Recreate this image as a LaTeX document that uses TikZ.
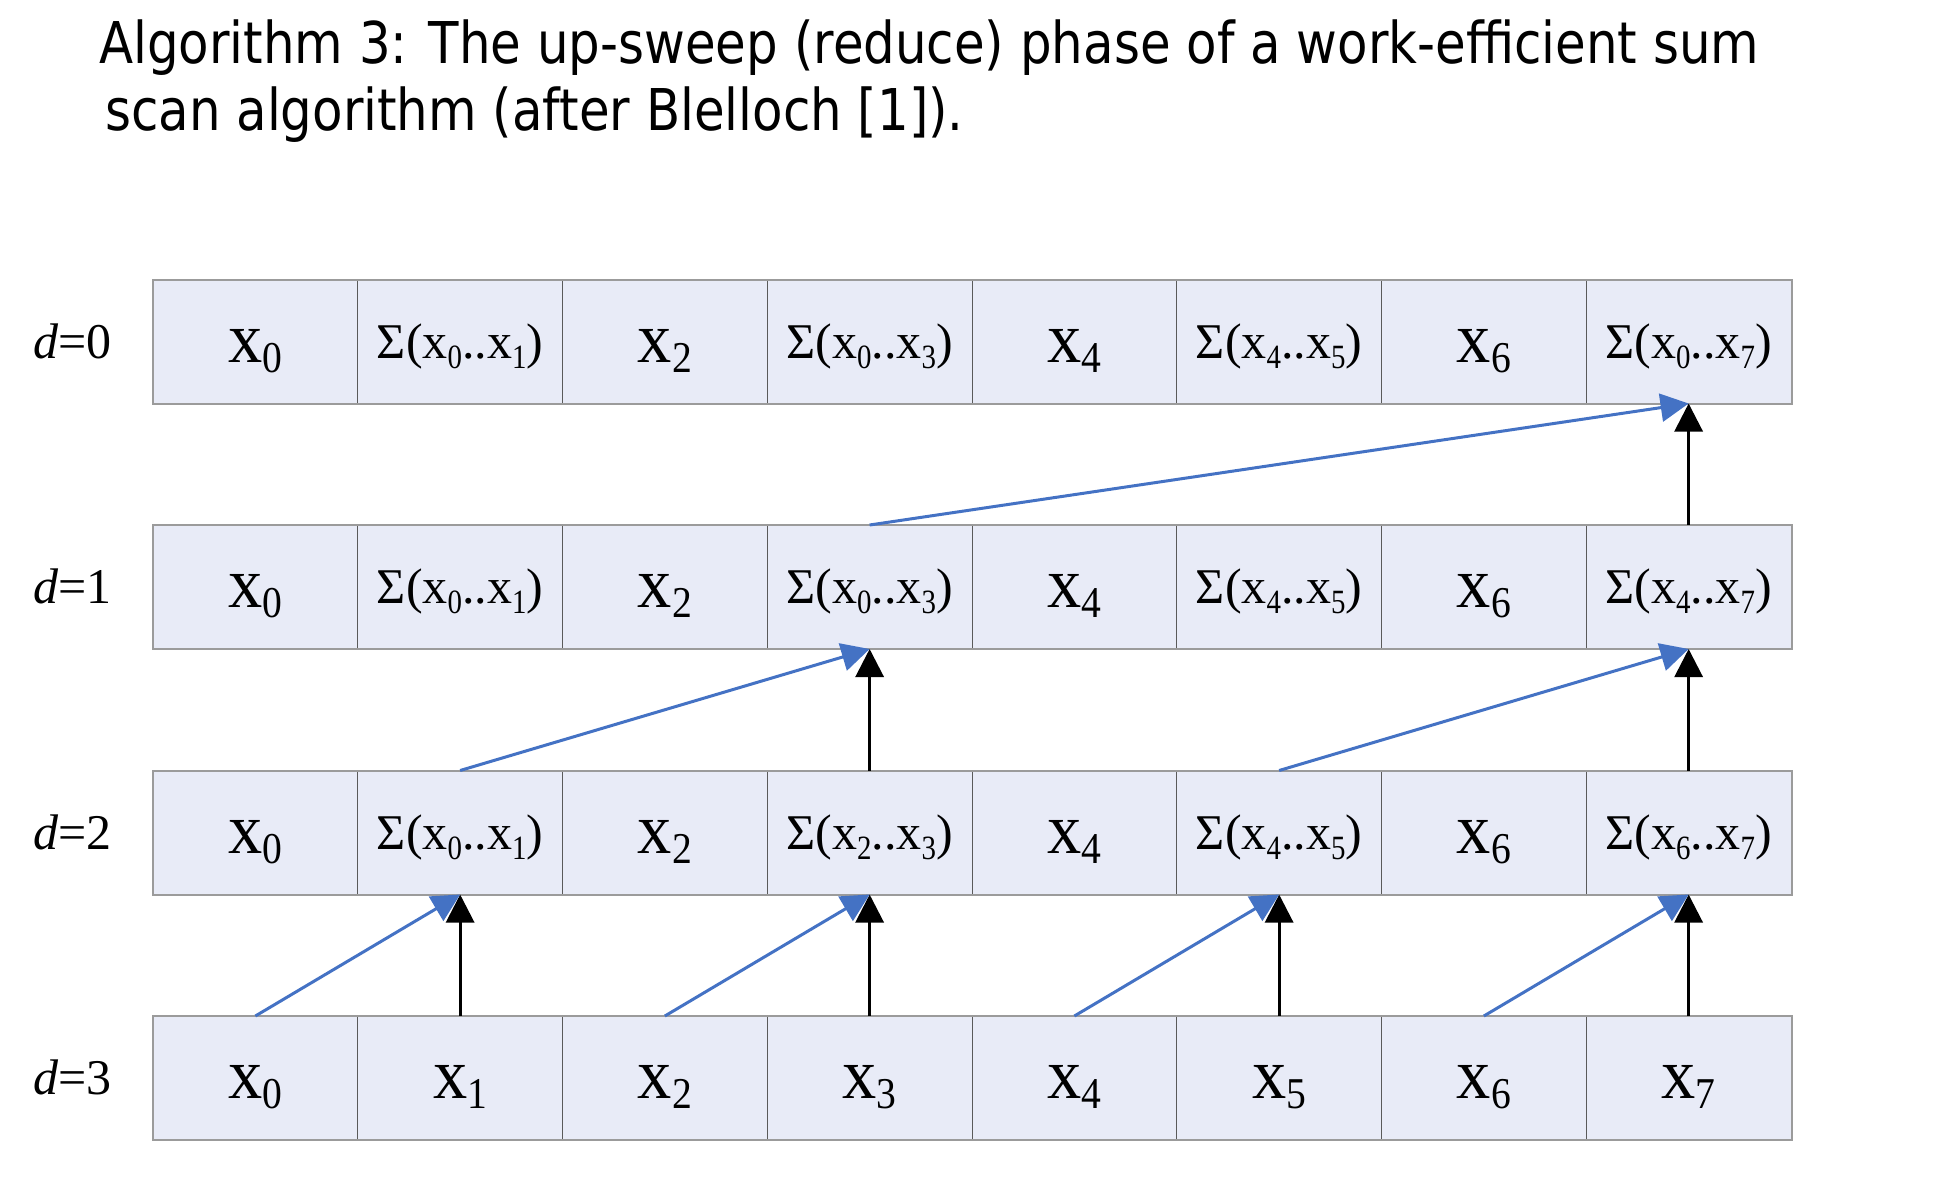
\documentclass[tikz,border=0pt]{standalone}
\usepackage{fontspec}
\setmainfont{Liberation Serif}
\newfontfamily\titlefont{DejaVu Sans}
\usetikzlibrary{arrows.meta}
\definecolor{cellfill}{RGB}{232,235,247}
\definecolor{arrblue}{RGB}{68,114,196}
\definecolor{outerline}{RGB}{155,155,155}
\definecolor{innerline}{RGB}{90,90,90}
\newlength\titlew
\newcommand\xcell[1]{\scalebox{0.95}[1]{\fontsize{72}{72}\selectfont x}\raisebox{-10pt}{\scalebox{0.9}[1]{\fontsize{44}{44}\selectfont #1}}}
\newcommand\subs[1]{\raisebox{-10pt}{\scalebox{0.85}[1]{\fontsize{34}{34}\selectfont #1}}}
\newcommand\sumcell[2]{{\fontsize{50}{50}\selectfont Σ(x\subs{#1}..x\subs{#2})}}
\newcommand\mycell[4]{\node[#1] (c#2#3) at ({153+204.75*(#3+0.5)},{341.5+245.5*#2}) {#4};}
\newcommand\dlabel[1]{\node[anchor=base west, inner sep=0] (d#1) at (33,{358+245.5*#1}) {\fontsize{50}{50}\selectfont\textit{d}=#1};}
\begin{document}
\settowidth\titlew{\titlefont\fontsize{57.6}{60}\selectfont Algorithm 3: The up-sweep (reduce) phase of a work-efficient sum}
\begin{tikzpicture}[x=1pt,y=-1pt,
  cellbase/.style={draw=innerline, line width=1pt, fill=cellfill, minimum width=204.75pt, minimum height=123pt, inner sep=0pt, text depth=0pt},
  xbox/.style={cellbase, text height=41pt},
  sbox/.style={cellbase, text height=33pt},
  blk/.style={draw=black, line width=3pt, -{Triangle[width=28pt,length=28pt]}},
  blu/.style={draw=arrblue, line width=3pt, -{Triangle[width=28pt,length=28pt]}},
  frame/.style={draw=outerline, line width=2pt}]
\path[use as bounding box] (0,0) rectangle (1936,1188);
\pgfmathsetmacro\sx{1660/\titlew}
\node[anchor=base west, inner sep=0] (title1) at (99,64) {\scalebox{\sx}[1]{\titlefont\fontsize{57.6}{60}\selectfont Algorithm 3: The up-sweep (reduce) phase of a work-efficient sum}};
\node[anchor=base west, inner sep=0] (title2) at (105,131) {\scalebox{\sx}[1]{\titlefont\fontsize{57.6}{60}\selectfont scan algorithm (after Blelloch [1]).}};
% row d=0
\mycell{xbox}{0}{0}{\xcell{0}}
\mycell{sbox}{0}{1}{\sumcell{0}{1}}
\mycell{xbox}{0}{2}{\xcell{2}}
\mycell{sbox}{0}{3}{\sumcell{0}{3}}
\mycell{xbox}{0}{4}{\xcell{4}}
\mycell{sbox}{0}{5}{\sumcell{4}{5}}
\mycell{xbox}{0}{6}{\xcell{6}}
\mycell{sbox}{0}{7}{\sumcell{0}{7}}
% row d=1
\mycell{xbox}{1}{0}{\xcell{0}}
\mycell{sbox}{1}{1}{\sumcell{0}{1}}
\mycell{xbox}{1}{2}{\xcell{2}}
\mycell{sbox}{1}{3}{\sumcell{0}{3}}
\mycell{xbox}{1}{4}{\xcell{4}}
\mycell{sbox}{1}{5}{\sumcell{4}{5}}
\mycell{xbox}{1}{6}{\xcell{6}}
\mycell{sbox}{1}{7}{\sumcell{4}{7}}
% row d=2
\mycell{xbox}{2}{0}{\xcell{0}}
\mycell{sbox}{2}{1}{\sumcell{0}{1}}
\mycell{xbox}{2}{2}{\xcell{2}}
\mycell{sbox}{2}{3}{\sumcell{2}{3}}
\mycell{xbox}{2}{4}{\xcell{4}}
\mycell{sbox}{2}{5}{\sumcell{4}{5}}
\mycell{xbox}{2}{6}{\xcell{6}}
\mycell{sbox}{2}{7}{\sumcell{6}{7}}
% row d=3
\mycell{xbox}{3}{0}{\xcell{0}}
\mycell{xbox}{3}{1}{\xcell{1}}
\mycell{xbox}{3}{2}{\xcell{2}}
\mycell{xbox}{3}{3}{\xcell{3}}
\mycell{xbox}{3}{4}{\xcell{4}}
\mycell{xbox}{3}{5}{\xcell{5}}
\mycell{xbox}{3}{6}{\xcell{6}}
\mycell{xbox}{3}{7}{\xcell{7}}
% frames
\foreach \r in {0,1,2,3}{\draw[frame] (c\r0.north west) rectangle (c\r7.south east);}
% labels
\dlabel{0}\dlabel{1}\dlabel{2}\dlabel{3}
% arrows d=3 -> d=2
\draw[blk] (c31.north) -- (c21.south);
\draw[blk] (c33.north) -- (c23.south);
\draw[blk] (c35.north) -- (c25.south);
\draw[blk] (c37.north) -- (c27.south);
\draw[blu] (c30.north) -- (c21.south);
\draw[blu] (c32.north) -- (c23.south);
\draw[blu] (c34.north) -- (c25.south);
\draw[blu] (c36.north) -- (c27.south);
% d=2 -> d=1
\draw[blk] (c23.north) -- (c13.south);
\draw[blk] (c27.north) -- (c17.south);
\draw[blu] (c21.north) -- (c13.south);
\draw[blu] (c25.north) -- (c17.south);
% d=1 -> d=0
\draw[blk] (c17.north) -- (c07.south);
\draw[blu] (c13.north) -- (c07.south);
\end{tikzpicture}
\end{document}
